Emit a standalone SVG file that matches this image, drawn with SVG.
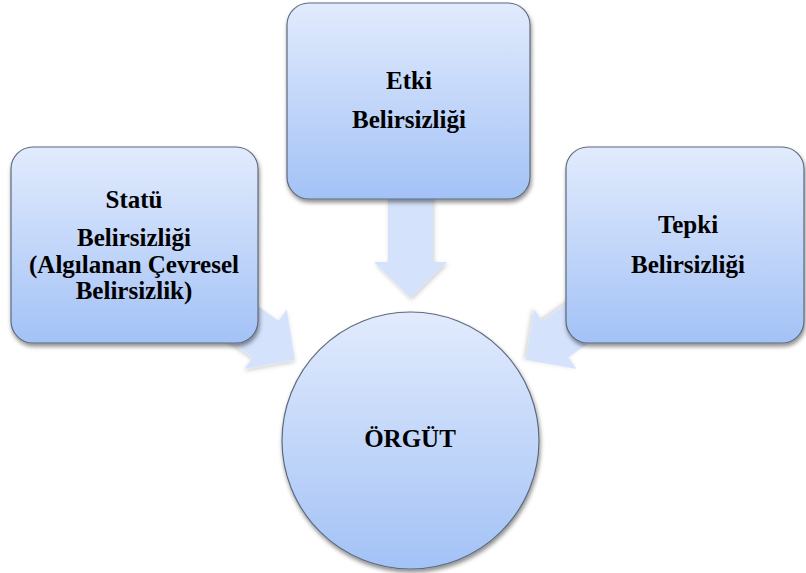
<svg xmlns="http://www.w3.org/2000/svg" width="806" height="573" viewBox="0 0 806 573">
<defs>
<linearGradient id="g" x1="0" y1="0" x2="0" y2="1">
<stop offset="0" stop-color="#e2ebfd"/>
<stop offset="1" stop-color="#a3c2f6"/>
</linearGradient>
<filter id="sh" x="-10%" y="-10%" width="120%" height="125%">
<feDropShadow dx="1" dy="3" stdDeviation="2" flood-color="#000" flood-opacity="0.45"/>
</filter>
<filter id="ash" x="-20%" y="-20%" width="140%" height="140%">
<feDropShadow dx="1" dy="2" stdDeviation="2" flood-color="#000" flood-opacity="0.2"/>
</filter>
</defs>
<style>
.box{fill:url(#g);stroke:#5d6b7e;stroke-width:1.2;filter:url(#sh)}
.arr{fill:#d5e2fb;filter:url(#ash)}
text{font-family:'Liberation Serif','Times New Roman',serif;font-weight:700;font-size:25px;fill:#000;text-anchor:middle}
</style>
<rect width="806" height="573" fill="#fff"/>
<g id="connectors">
<polygon class="arr" points="388,196 433,196 433,262 447,262 410.5,298 374,262 388,262"/>
<polygon class="arr" transform="translate(295,360) rotate(35.4)" points="-98,-22.5 -36,-22.5 -36,-36.5 0,0 -36,36.5 -36,22.5 -98,22.5"/>
<polygon class="arr" transform="translate(526,360) rotate(144.6)" points="-98,-22.5 -36,-22.5 -36,-36.5 0,0 -36,36.5 -36,22.5 -98,22.5"/>
</g>
<g id="statu">
<rect class="box" x="11" y="147" width="247" height="196" rx="22"/>
<text x="134" y="208">Statü</text>
<text x="134" y="246">Belirsizliği</text>
<text x="134" y="273">(Algılanan Çevresel</text>
<text x="134" y="299">Belirsizlik)</text>
</g>
<g id="etki">
<rect class="box" x="287" y="3" width="243" height="196" rx="22"/>
<text x="409" y="89">Etki</text>
<text x="409" y="128">Belirsizliği</text>
</g>
<g id="tepki">
<rect class="box" x="566" y="147" width="238" height="196" rx="22"/>
<text x="688" y="233">Tepki</text>
<text x="688" y="273">Belirsizliği</text>
</g>
<g id="orgut">
<circle class="box" cx="410.5" cy="440.5" r="128.5"/>
<text x="410" y="447">ÖRGÜT</text>
</g>
</svg>
